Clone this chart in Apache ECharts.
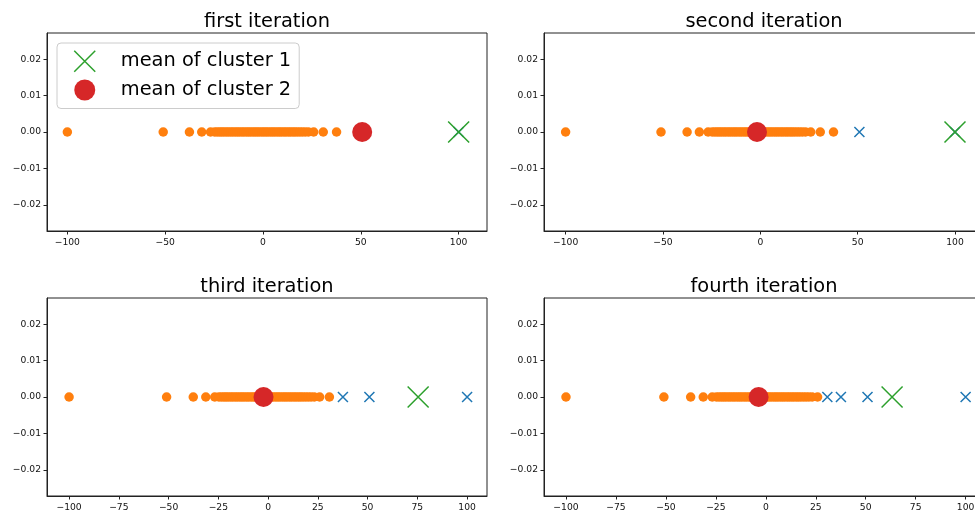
<!DOCTYPE html>
<html>
<head>
<meta charset="utf-8">
<script src="https://cdn.jsdelivr.net/npm/echarts@6/dist/echarts.min.js"></script>
<style>
html,body{margin:0;padding:0;background:#fff;}
#chart{width:975px;height:512px;}
</style>
</head>
<body>
<div id="chart"></div>
<script>
// ---- data ----
const titles = ['first iteration', 'second iteration', 'third iteration', 'fourth iteration'];
const points = [-100, -51.0, -37.6, -31.3, -26.8, -24.7, -23.4, -22.2, -21.1, -20.0, -18.8, -17.7,
  -16.5, -15.4, -14.2, -13.1, -12.0, -10.8, -9.7, -8.5, -7.4, -6.3, -5.1, -4.0, -2.9, -1.8, -0.6,
  0.5, 1.6, 2.7, 3.9, 5.0, 6.1, 7.3, 8.4, 9.5, 10.7, 11.8, 13.0, 14.1, 15.3, 16.4, 17.6, 18.9,
  20.2, 21.6, 23.2, 25.9, 30.8, 37.6, 50.9, 100];
const cluster1Panel1 = [100];
const cluster1Panel2 = [50.9, 100];
const cluster1Panel3 = [37.6, 50.9, 100];
const cluster1Panel4 = [30.8, 37.6, 50.9, 100];
const cluster1Sets = [cluster1Panel1, cluster1Panel2, cluster1Panel3, cluster1Panel4];
const meanCluster1 = [100, 100, 75.4, 63.2];
const meanCluster2 = [50.7, -1.7, -2.3, -3.6];
const xTicksTop = [-100, -50, 0, 50, 100];
const xTicksBottom = [-100, -75, -50, -25, 0, 25, 50, 75, 100];
const yTicks = [-0.02, -0.01, 0, 0.01, 0.02];
const xMins = [-110.4, -111.1, -111.1, -111.0];
const xMaxs = [114.5, 114.9, 110.0, 109.2];
const yLim = 0.0272;

// ---- layout / style ----
const FONT = 'DejaVu Sans';
const grids = [
  {left: 47, top: 33, width: 440, height: 198},
  {left: 544, top: 33, width: 440, height: 198},
  {left: 47, top: 298, width: 440, height: 198},
  {left: 544, top: 298, width: 440, height: 198}
];
const titleTops = [12, 12, 277, 277];
const C_ORANGE = '#ff7f0e', C_BLUE = '#1f77b4', C_GREEN = '#2ca02c', C_RED = '#d62728';
const X_PATH = 'path://M0,0L10,10M10,0L0,10';

function fmtY(v) { const a = Math.abs(v).toFixed(2); return (v < -1e-12 ? '\u2212' : '') + a; }
function fmtX(v) { const a = String(Math.abs(Math.round(v))); return (v < 0 ? '\u2212' : '') + a; }

const option = {
  animation: false,
  backgroundColor: '#ffffff',
  textStyle: {fontFamily: FONT},
  title: titles.map((t, i) => ({
    text: t,
    left: grids[i].left + grids[i].width / 2,
    top: titleTops[i],
    textAlign: 'center',
    padding: 0,
    textStyle: {fontFamily: FONT, fontSize: 19.4, fontWeight: 'normal', color: '#000'}
  })),
  legend: {
    left: 57, top: 43,
    orient: 'vertical',
    padding: [7, 8, 8, 6],
    itemGap: 7,
    itemWidth: 52, itemHeight: 21,
    selectedMode: false,
    backgroundColor: 'rgba(255,255,255,0.8)',
    borderColor: '#cccccc', borderWidth: 1, borderRadius: 4,
    textStyle: {fontFamily: FONT, fontSize: 19.4, color: '#000'},
    data: [
      {name: 'mean of cluster 1', icon: 'path://M0,0M10.5,0L31.5,21M31.5,0L10.5,21M52,21',
       itemStyle: {color: 'rgba(0,0,0,0)', borderColor: C_GREEN, borderWidth: 1.5, opacity: 1}},
      {name: 'mean of cluster 2', icon: 'path://M0,0M31.5,10.5A10.5,10.5,0,1,1,10.5,10.5A10.5,10.5,0,1,1,31.5,10.5ZM52,21',
       itemStyle: {color: C_RED, borderWidth: 0, opacity: 1}}
    ],
    z: 10
  },
  grid: grids.map(g => Object.assign({}, g, {
    show: true, borderColor: '#222', borderWidth: 1, backgroundColor: '#fff',
    containLabel: false, outerBoundsMode: 'none'
  })),
  xAxis: grids.map((g, i) => {
    const ticks = i < 2 ? xTicksTop : xTicksBottom;
    return {
      type: 'value', gridIndex: i, min: xMins[i], max: xMaxs[i],
      axisLine: {show: true, onZero: false, lineStyle: {color: '#222', width: 1}},
      axisTick: {show: true, inside: false, length: 3.5, customValues: ticks, lineStyle: {color: '#222', width: 1}},
      axisLabel: {show: true, customValues: ticks, formatter: fmtX, margin: 7,
        fontFamily: FONT, fontSize: 9.2, color: '#111', showMinLabel: true, showMaxLabel: true},
      splitLine: {show: false}
    };
  }),
  yAxis: grids.map((g, i) => ({
    type: 'value', gridIndex: i, min: -yLim, max: yLim,
    axisLine: {show: true, onZero: false, lineStyle: {color: '#222', width: 1}},
    axisTick: {show: true, inside: false, length: 3.5, customValues: yTicks, lineStyle: {color: '#222', width: 1}},
    axisLabel: {show: true, customValues: yTicks, formatter: fmtY, margin: 6,
      fontFamily: FONT, fontSize: 9.2, color: '#111'},
    splitLine: {show: false}
  })),
  series: []
};

titles.forEach((t, i) => {
  const c1 = cluster1Sets[i];
  const c2 = points.filter(v => c1.indexOf(v) < 0);
  option.series.push({
    name: 'cluster 2 points', type: 'scatter', xAxisIndex: i, yAxisIndex: i,
    symbol: 'circle', symbolSize: 9.5,
    itemStyle: {color: C_ORANGE, opacity: 1},
    emphasis: {disabled: true},
    data: c2.map(v => [v, 0])
  });
  option.series.push({
    name: 'cluster 1 points', type: 'scatter', xAxisIndex: i, yAxisIndex: i,
    symbol: X_PATH, symbolSize: 10,
    itemStyle: {color: 'rgba(0,0,0,0)', borderColor: C_BLUE, borderWidth: 1.5, opacity: 1},
    emphasis: {disabled: true},
    data: c1.map(v => [v, 0])
  });
  option.series.push({
    name: 'mean of cluster 1', type: 'scatter', xAxisIndex: i, yAxisIndex: i,
    symbol: X_PATH, symbolSize: 21,
    itemStyle: {color: 'rgba(0,0,0,0)', borderColor: C_GREEN, borderWidth: 1.5, opacity: 1},
    emphasis: {disabled: true},
    data: [[meanCluster1[i], 0]]
  });
  option.series.push({
    name: 'mean of cluster 2', type: 'scatter', xAxisIndex: i, yAxisIndex: i,
    symbol: 'circle', symbolSize: 20,
    itemStyle: {color: C_RED, opacity: 1},
    emphasis: {disabled: true},
    data: [[meanCluster2[i], 0]]
  });
});

const chart = echarts.init(document.getElementById('chart'), null, {renderer: 'canvas'});
chart.setOption(option);
</script>
</body>
</html>
